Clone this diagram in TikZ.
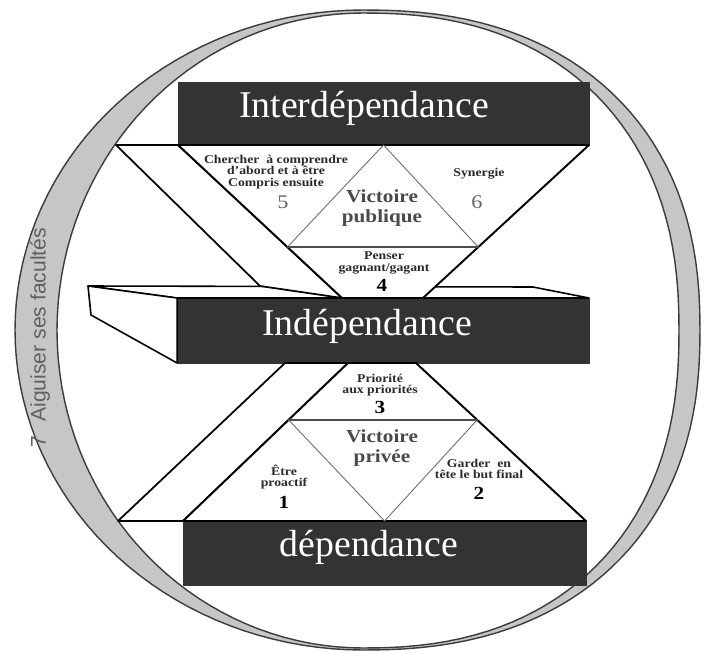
\documentclass[tikz,border=0pt]{standalone}
\usepackage{fontspec}
\setmainfont{Liberation Serif}
\newfontfamily\ringfont{Liberation Sans}
\newfontfamily\lblfont[FakeStretch=1.15]{Liberation Serif}
\usetikzlibrary{calc}
\definecolor{barfill}{HTML}{333333}
\definecolor{ringfill}{HTML}{C6C6C6}
\definecolor{ringline}{HTML}{3C3C3C}
\definecolor{lblcol}{HTML}{2A2A2A}
\begin{document}
\begin{tikzpicture}[x=0.02cm, y=-0.02cm, line join=round, line cap=round,
  bar/.style={fill=barfill, draw=barfill, inner sep=0pt, outer sep=0pt},
  bartext/.style={anchor=base, text=white, font=\fontsize{21.5}{24}\selectfont},
  ringtext/.style={text=gray!75!black, font=\ringfont\fontsize{12}{14}\selectfont},
  slab/.style={draw=black, line width=0.9pt, fill=white},
  band/.style={draw=black, line width=1pt, fill=white},
  edge/.style={draw=black, line width=1.1pt, fill=white},
  thinedge/.style={draw=gray!85!black, line width=0.5pt},
  baseedge/.style={draw=gray!60!black, line width=0.7pt},
  lbl/.style={align=center, inner sep=0pt, text=lblcol, font=\lblfont\bfseries\fontsize{6.8}{6.6}\selectfont},
  vict/.style={align=center, inner sep=0pt, text=lblcol!85!white, font=\lblfont\bfseries\fontsize{10.5}{11.3}\selectfont},
  num/.style={inner sep=0pt, text=black, font=\lblfont\bfseries\fontsize{10.5}{12}\selectfont},
  gnum/.style={inner sep=0pt, text=gray!80!black, font=\lblfont\fontsize{11}{12}\selectfont}]
\useasboundingbox (0,0) rectangle (705,652);
\fill[ringfill, draw=ringline, line width=0.8pt]
  plot[domain=-90:90, samples=73] ({363+337*cos(\x)*pow(abs(cos(\x))+0.00001,-0.13)}, {330+320*sin(\x)*pow(abs(sin(\x))+0.00001,-0.13)})
  -- plot[domain=90:270, samples=73] ({363+348*cos(\x)}, {330+320*sin(\x)}) -- cycle;
\fill[white, draw=ringline, line width=0.8pt]
  plot[domain=-90:90, samples=73] ({363+316*cos(\x)*pow(abs(cos(\x))+0.00001,-0.13)}, {330.5+317.5*sin(\x)*pow(abs(sin(\x))+0.00001,-0.13)})
  -- plot[domain=90:270, samples=73] ({363+306*cos(\x)}, {330.5+317.5*sin(\x)}) -- cycle;
\node[ringtext, rotate=90] (sharpen) at (40,338) {7\hspace{0.7em}Aiguiser ses facultés};
\node[bar, minimum width=8.22cm, minimum height=1.26cm] (inter) at (383.5,113.5) {};
\node[bar, minimum width=8.24cm, minimum height=1.30cm] (indep) at (383,330.5) {};
\node[bar, minimum width=8.06cm, minimum height=1.28cm] (dep) at (384.5,553) {};
\coordinate (slabtl) at (88,286);
\coordinate (slabbl) at (91,315);
\coordinate (slabtr) at (533,287);
\draw[slab] (slabtl) -- (slabtr) -- (indep.north east) -- (indep.north west) -- cycle;
\draw[slab] (slabtl) -- (indep.north west) -- (indep.south west) -- (slabbl) -- cycle;
\coordinate (ubandtop) at (116,145);
\coordinate (ubandbot) at (260,286);
\coordinate (uleft) at (342,298);
\coordinate (uright) at (423,298);
\draw[band] (ubandtop) -- (inter.south west) -- (uleft) -- (ubandbot) -- cycle;
\draw[edge] (inter.south west) -- (inter.south east) -- (uright) -- (uleft) -- cycle;
\coordinate (pubL) at ($(inter.south west)!0.667!(uleft)$);
\coordinate (pubR) at ($(inter.south east)!0.667!(uright)$);
\draw[thinedge] (pubL) -- (inter.south) -- (pubR);
\draw[baseedge] (pubL) -- (pubR);
\coordinate (lbandtop) at (285,363);
\coordinate (lbandbot) at (118,521);
\coordinate (lleft) at (348,363);
\coordinate (lright) at (416,363);
\draw[band] (lbandtop) -- (lleft) -- (dep.north west) -- (lbandbot) -- cycle;
\draw[edge] (lleft) -- (lright) -- (dep.north east) -- (dep.north west) -- cycle;
\coordinate (privL) at ($(lleft)!0.36!(dep.north west)$);
\coordinate (privR) at ($(lright)!0.36!(dep.north east)$);
\draw[thinedge] (privL) -- (dep.north) -- (privR);
\draw[baseedge] (privL) -- (privR);
\node[bartext] (intertxt) at (364,117) {Interdépendance};
\node[bartext] (indeptxt) at (367,335) {Indépendance};
\node[bartext] (deptxt) at (369,556) {dépendance};
\node[lbl] (seek) at (276,172) {Chercher\ \ à comprendre\\d’abord et à être\\Compris ensuite};
\node[gnum] (five) at (283,202) {5};
\node[lbl] (synergy) at (479,174) {Synergie};
\node[gnum] (six) at (477,202) {6};
\node[vict] (public) at (382,208) {Victoire\\publique};
\node[lbl] (winwin) at (384,263) {Penser\\gagnant/gagant};
\node[num] (four) at (382,285) {4};
\node[lbl] (priority) at (380,385) {Priorité\\aux priorités};
\node[num] (three) at (380,407) {3};
\node[vict] (private) at (382,448) {Victoire\\privée};
\node[lbl] (proactive) at (284,477) {Être\\proactif};
\node[num] (one) at (284,502) {1};
\node[lbl] (endmind) at (479,469) {Garder\ \ en\\tête le but final};
\node[num] (two) at (479,493) {2};
\end{tikzpicture}
\end{document}
